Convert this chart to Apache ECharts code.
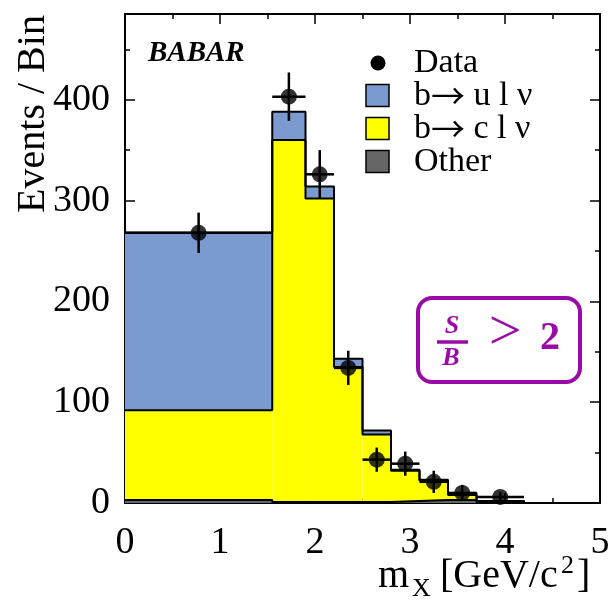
<!DOCTYPE html>
<html>
<head>
<meta charset="utf-8">
<script src="https://cdn.jsdelivr.net/npm/echarts@6/dist/echarts.min.js"></script>
<style>
  html, body { margin: 0; padding: 0; background: #fff; }
  #chart { width: 609px; height: 600px; }
</style>
</head>
<body>
<div id="chart"></div>
<script>
// bin edges, m_X [GeV/c^2]
const binEdges = [0, 1.55, 1.9, 2.2, 2.5, 2.8, 3.1, 3.4, 3.7, 4.2];
// stacked MC components per bin (bottom to top)
const otherVals = [3, 1, 1, 1, 1, 2, 3, 3, 1];
const bToCVals = [89, 359, 301, 134, 67, 30, 19, 5, 1];
const bToUVals = [176, 28, 12, 8, 4, 1, 1, 2, 0];
// data points with errors
const dataX = [0.775, 1.725, 2.05, 2.35, 2.65, 2.95, 3.25, 3.55, 3.95];
const dataY = [268, 403, 326, 134, 43, 39, 21, 10, 6];
const dataErr = [20, 24, 24, 17, 12, 12, 11, 8, 5];
// axis ticks
const xTickLabels = [0, 1, 2, 3, 4, 5];
const yTickLabels = [0, 100, 200, 300, 400];
const yMax = 485;

const BLUE = '#7a9ad0';
const YELLOW = '#ffff00';
const GREY = '#666666';
const PURPLE = '#9a0aa8';
const SERIF = '"Liberation Serif", "Times New Roman", serif';

function stackRows(lower, vals) {
  return vals.map((v, i) => [binEdges[i], binEdges[i + 1], lower[i], lower[i] + v]);
}
const otherRows = stackRows(otherVals.map(() => 0), otherVals);
const cRows = stackRows(otherRows.map(r => r[3]), bToCVals);
const uRows = stackRows(cRows.map(r => r[3]), bToUVals);

// step outline of a cumulative level
function stepLine(rows) {
  const pts = rows.map(r => [r[0], r[3]]);
  const last = rows[rows.length - 1];
  pts.push([last[1], last[3]], [last[1], 0]);
  return pts;
}

// which bin each data point sits in -> horizontal error bar
const errRows = dataX.map((x, i) => {
  let b = 0;
  while (b < binEdges.length - 2 && x > binEdges[b + 1]) b++;
  return [x, dataY[i], dataErr[i], binEdges[b], binEdges[b + 1]];
});

function histItem(params, api) {
  const p0 = api.coord([api.value(0), api.value(3)]);
  const p1 = api.coord([api.value(1), api.value(2)]);
  return {
    type: 'rect',
    shape: { x: p0[0], y: p0[1], width: p1[0] - p0[0], height: p1[1] - p0[1] },
    style: { fill: api.visual('color') }
  };
}

function errItem(params, api) {
  const x = api.value(0), y = api.value(1), e = api.value(2);
  const top = api.coord([x, y + e]);
  const bot = api.coord([x, y - e]);
  const l = api.coord([api.value(3), y]);
  const r = api.coord([api.value(4), y]);
  const st = { stroke: '#000', lineWidth: 2.5 };
  return {
    type: 'group',
    children: [
      { type: 'line', shape: { x1: top[0], y1: top[1], x2: bot[0], y2: bot[1] }, style: st },
      { type: 'line', shape: { x1: l[0], y1: l[1], x2: r[0], y2: r[1] }, style: st }
    ]
  };
}

function outline(name, rows) {
  return {
    name: name, type: 'line', step: 'end', data: stepLine(rows),
    symbol: 'none', showSymbol: false, silent: true,
    lineStyle: { color: '#000', width: 2 }, z: 3
  };
}

function xAxisDef(pos, showLabel) {
  return {
    type: 'value', position: pos, min: 0, max: 5, interval: 1,
    axisLine: { show: true, onZero: false, lineStyle: { color: '#000', width: 2 } },
    axisTick: { show: true, inside: true, length: 10, lineStyle: { color: '#000', width: 1.5 } },
    minorTick: { show: true, splitNumber: 2, length: 5, lineStyle: { color: '#000', width: 1.5 } },
    axisLabel: {
      show: showLabel, margin: 21, color: '#000', fontSize: 38, fontFamily: SERIF,
      formatter: v => xTickLabels.includes(v) ? String(v) : ''
    },
    splitLine: { show: false }
  };
}

function yAxisDef(pos, interval, len, showLabel, showLine) {
  return {
    type: 'value', position: pos, min: 0, max: yMax, interval: interval,
    axisLine: { show: showLine, onZero: false, lineStyle: { color: '#000', width: 2 } },
    axisTick: { show: true, inside: true, length: len, lineStyle: { color: '#000', width: 1.5 } },
    axisLabel: {
      show: showLabel, margin: 15, color: '#000', fontSize: 38, fontFamily: SERIF,
      showMaxLabel: false,
      formatter: v => yTickLabels.includes(v) ? String(v) : ''
    },
    splitLine: { show: false }
  };
}

const legendFont = '34px ' + SERIF;
const legendRich = {
  t: { font: legendFont, fill: '#000' },
  a: { font: '34px "Noto Sans CJK SC", "DejaVu Sans", sans-serif', fill: '#000' }
};

const chart = echarts.init(document.getElementById('chart'));
chart.setOption({
  animation: false,
  backgroundColor: '#fff',
  grid: { left: 125, right: 9, top: 14, bottom: 97, containLabel: false, outerBoundsMode: 'none' },
  xAxis: [xAxisDef('bottom', true), xAxisDef('top', false)],
  yAxis: [
    yAxisDef('left', 100, 10, true, true),
    yAxisDef('left', 50, 5, false, false),
    yAxisDef('right', 100, 10, false, true),
    yAxisDef('right', 50, 5, false, false)
  ],
  series: [
    { name: 'Other', type: 'custom', renderItem: histItem, data: otherRows,
      itemStyle: { color: GREY }, encode: { x: [0, 1], y: [2, 3] }, z: 2 },
    { name: 'b→ c l ν', type: 'custom', renderItem: histItem, data: cRows,
      itemStyle: { color: YELLOW }, encode: { x: [0, 1], y: [2, 3] }, z: 2 },
    { name: 'b→ u l ν', type: 'custom', renderItem: histItem, data: uRows,
      itemStyle: { color: BLUE }, encode: { x: [0, 1], y: [2, 3] }, z: 2 },
    outline('Other outline', otherRows),
    outline('b→ c l ν outline', cRows),
    outline('total outline', uRows),
    { name: 'errors', type: 'custom', renderItem: errItem, data: errRows,
      encode: { x: [0, 3, 4], y: 1 }, z: 4 },
    { name: 'Data', type: 'scatter', data: dataX.map((x, i) => [x, dataY[i]]),
      symbol: 'circle', symbolSize: 16, itemStyle: { color: '#000' }, z: 5 }
  ],
  graphic: [
    { type: 'text', x: 148, y: 54, style: { text: 'BABAR', font: 'italic bold 29px ' + SERIF, fill: '#000', verticalAlign: 'middle' } },
    // legend
    { type: 'circle', shape: { cx: 378, cy: 63, r: 7.5 }, style: { fill: '#000' } },
    { type: 'rect', shape: { x: 366, y: 84.5, width: 23, height: 22 }, style: { fill: BLUE, stroke: '#000', lineWidth: 1.5 } },
    { type: 'rect', shape: { x: 366, y: 117.5, width: 23, height: 22 }, style: { fill: YELLOW, stroke: '#000', lineWidth: 1.5 } },
    { type: 'rect', shape: { x: 366, y: 150.5, width: 23, height: 22 }, style: { fill: GREY, stroke: '#000', lineWidth: 1.5 } },
    { type: 'text', x: 414, y: 63, style: { text: 'Data', font: legendFont, fill: '#000', verticalAlign: 'middle' } },
    { type: 'text', x: 414, y: 96, style: { text: '{t|b}{a|→}{t| u l ν}', rich: legendRich, verticalAlign: 'middle' } },
    { type: 'text', x: 414, y: 129, style: { text: '{t|b}{a|→}{t| c l ν}', rich: legendRich, verticalAlign: 'middle' } },
    { type: 'text', x: 414, y: 162, style: { text: 'Other', font: legendFont, fill: '#000', verticalAlign: 'middle' } },
    // y title
    { type: 'text', x: 33, y: 114, rotation: Math.PI / 2,
      style: { text: 'Events / Bin', font: '40px ' + SERIF, fill: '#000', align: 'center', verticalAlign: 'middle' } },
    // x title
    { type: 'text', x: 378, y: 576, style: { text: 'm', font: '40px ' + SERIF, fill: '#000', verticalAlign: 'middle' } },
    { type: 'text', x: 412, y: 589, style: { text: 'X', font: '26px ' + SERIF, fill: '#000', verticalAlign: 'middle' } },
    { type: 'text', x: 440, y: 576, style: { text: '[GeV/c', font: '40px ' + SERIF, fill: '#000', verticalAlign: 'middle' } },
    { type: 'text', x: 561, y: 566, style: { text: '2', font: '26px ' + SERIF, fill: '#000', verticalAlign: 'middle' } },
    { type: 'text', x: 577, y: 576, style: { text: ']', font: '40px ' + SERIF, fill: '#000', verticalAlign: 'middle' } },
    // S/B > 2 box
    { type: 'rect', shape: { x: 418, y: 298, width: 162, height: 84, r: 14 },
      style: { fill: 'none', stroke: PURPLE, lineWidth: 4 } },
    { type: 'text', x: 452, y: 326, style: { text: 'S', font: 'italic bold 26px ' + SERIF, fill: PURPLE, align: 'center', verticalAlign: 'middle' } },
    { type: 'line', shape: { x1: 437, y1: 342, x2: 468, y2: 342 }, style: { stroke: PURPLE, lineWidth: 3.5 } },
    { type: 'text', x: 451, y: 358, style: { text: 'B', font: 'italic bold 26px ' + SERIF, fill: PURPLE, align: 'center', verticalAlign: 'middle' } },
    { type: 'text', x: 505, y: 334, style: { text: '>', font: '58px ' + SERIF, fill: PURPLE, align: 'center', verticalAlign: 'middle' } },
    { type: 'text', x: 550, y: 339, style: { text: '2', font: 'bold 40px ' + SERIF, fill: PURPLE, align: 'center', verticalAlign: 'middle' } }
  ]
});
</script>
</body>
</html>
